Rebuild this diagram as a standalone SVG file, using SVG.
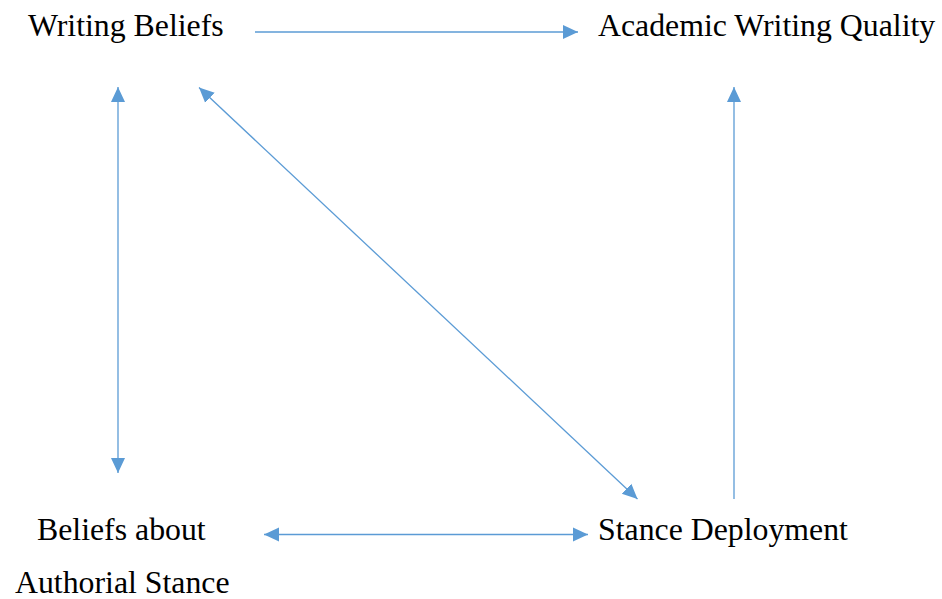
<svg xmlns="http://www.w3.org/2000/svg" width="942" height="599" viewBox="0 0 942 599">
  <style>
    .label { font-family: "Liberation Serif", "Times New Roman", serif; font-size: 31.8px; fill: #000; }
    .link { stroke: #5B9BD5; stroke-width: 1.3; fill: none; }
  </style>
  <defs>
    <marker id="head" markerUnits="userSpaceOnUse" markerWidth="16" markerHeight="16" viewBox="0 0 16 16" refX="15" refY="8" orient="auto-start-reverse">
      <path d="M0,1 L15,8 L0,15 Z" fill="#5B9BD5"/>
    </marker>
  </defs>
  <rect width="942" height="599" fill="#fff"/>

  <g id="writing-beliefs">
    <text class="label" x="28" y="36">Writing Beliefs</text>
  </g>
  <g id="academic-writing-quality">
    <text class="label" x="598" y="36">Academic Writing Quality</text>
  </g>
  <g id="beliefs-about-authorial-stance">
    <text class="label" x="37" y="540">Beliefs about</text>
    <text class="label" x="15" y="593">Authorial Stance</text>
  </g>
  <g id="stance-deployment">
    <text class="label" x="598" y="540">Stance Deployment</text>
  </g>

  <g id="connectors">
    <line class="link" x1="255" y1="32" x2="578" y2="32" marker-end="url(#head)"/>
    <line class="link" x1="118" y1="87" x2="118" y2="473" marker-start="url(#head)" marker-end="url(#head)"/>
    <line class="link" x1="199" y1="87.5" x2="637.5" y2="499" marker-start="url(#head)" marker-end="url(#head)"/>
    <line class="link" x1="734" y1="499" x2="734" y2="87" marker-end="url(#head)"/>
    <line class="link" x1="264" y1="534.5" x2="588" y2="534.5" marker-start="url(#head)" marker-end="url(#head)"/>
  </g>
</svg>
